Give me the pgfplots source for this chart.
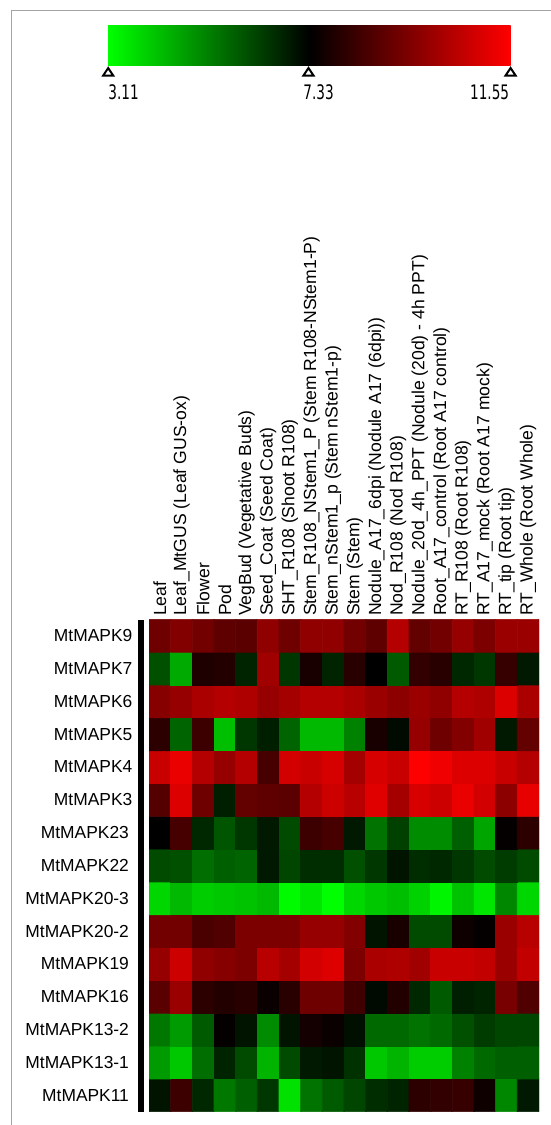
\documentclass[border=0pt]{standalone}
\usepackage{pgfplots}
\pgfplotsset{compat=1.18}
\usepackage{fontspec}
\setmainfont{Liberation Sans}
\newfontfamily\cbfont[FakeStretch=0.68]{DejaVu Sans}
\definecolor{cgreen}{RGB}{0,255,0}
\definecolor{cred}{RGB}{255,0,0}
\definecolor{framegray}{RGB}{165,165,165}
\pgfplotsset{colormap={gkr}{rgb255=(0,255,0) rgb255=(0,0,0) rgb255=(255,0,0)}}
\begin{document}
\begin{tikzpicture}
\begin{scope}[x=0.5pt,y=-0.5pt]
\path[use as bounding box] (0,0) rectangle (551,1125);
\draw[framegray, line width=0.8pt] (11.6,1125) -- (11.6,10.5) -- (551,10.5);
\shade[left color=cgreen, right color=cred, middle color=black] (108.2,25.6) rectangle (510.6,65.4);
\foreach \tx in {108.2,308.5,510.6}
  \draw[black, line width=1pt, fill=white, line join=miter] (\tx-5,75.5) -- (\tx+5,75.5) -- (\tx,68) -- cycle;
\node[anchor=base west, inner sep=0pt, font=\cbfont\fontsize{10}{12}\selectfont] at (108,99) {3.11};
\node[anchor=base west, inner sep=0pt, font=\cbfont\fontsize{10}{12}\selectfont] at (303,99) {7.33};
\node[anchor=base east, inner sep=0pt, font=\cbfont\fontsize{10}{12}\selectfont] at (509.5,99) {11.55};
\fill[black] (138,620) rectangle (144.3,1111.7);
\end{scope}
\begin{axis}[
  at={(74.5pt,-309.65pt)}, anchor=north west,
  x=10.8333pt, y=16.4133pt,
  xmin=-0.5, xmax=17.5, ymin=-0.5, ymax=14.5,
  axis line style={draw=none},
  major tick length=0pt,
  tick style={draw=none},
  xtick={0,...,17}, ytick={0,...,14},
  xticklabel pos=upper,
  xticklabels={Leaf, Leaf\_MtGUS (Leaf GUS-ox), Flower, Pod, VegBud (Vegetative Buds), Seed\_Coat (Seed Coat), SHT\_R108 (Shoot R108), Stem\_R108\_NStem1\_P (Stem R108-NStem1-P), Stem\_nStem1\_p (Stem nStem1-p), Stem (Stem), Nodule\_A17\_6dpi (Nodule A17 (6dpi)), Nod\_R108 (Nod R108), Nodule\_20d\_4h\_PPT (Nodule (20d) - 4h PPT), Root\_A17\_control (Root A17 control), RT\_R108 (Root R108), RT\_A17\_mock (Root A17 mock), RT\_tip (Root tip), RT\_Whole (Root Whole)},
  yticklabels={MtMAPK11\hspace*{1.7pt}, MtMAPK13-1\hspace*{1.7pt}, MtMAPK13-2\hspace*{1.7pt}, MtMAPK16\hspace*{1.7pt}, MtMAPK19\hspace*{1.7pt}, MtMAPK20-2\hspace*{1.7pt}, MtMAPK20-3\hspace*{1.7pt}, MtMAPK22\hspace*{1.7pt}, MtMAPK23\hspace*{1.7pt}, MtMAPK3, MtMAPK4, MtMAPK5, MtMAPK6, MtMAPK7, MtMAPK9},
  xticklabel style={rotate=90, anchor=west, inner xsep=1.5pt, inner ysep=0pt, font=\fontsize{8.8}{10}\selectfont},
  yticklabel style={anchor=east, inner sep=0pt, xshift=-8.15pt, font=\fontsize{8.7}{10}\selectfont},
  colormap name=gkr,
  point meta min=3.11, point meta max=11.55,
]
\addplot[matrix plot*, mesh/cols=18, point meta=explicit] coordinates {
(0,0)[7.00] (1,0)[8.32] (2,0)[6.67] (3,0)[5.34] (4,0)[5.76] (5,0)[6.42] (6,0)[3.61] (7,0)[5.43] (8,0)[5.84] (9,0)[6.17] (10,0)[6.59] (11,0)[6.75] (12,0)[8.07] (13,0)[8.16] (14,0)[8.24] (15,0)[7.58] (16,0)[5.10] (17,0)[6.92]
(0,1)[4.77] (1,1)[4.02] (2,1)[5.51] (3,1)[6.75] (4,1)[6.09] (5,1)[4.35] (6,1)[6.09] (7,1)[6.92] (8,1)[7.00] (9,1)[6.50] (10,1)[4.02] (11,1)[4.35] (12,1)[3.94] (13,1)[3.94] (14,1)[5.18] (15,1)[5.59] (16,1)[5.76] (17,1)[5.76]
(0,2)[5.34] (1,2)[4.77] (2,2)[5.84] (3,2)[7.41] (4,2)[7.00] (5,2)[5.01] (6,2)[7.00] (7,2)[7.66] (8,2)[7.50] (9,2)[7.08] (10,2)[5.59] (11,2)[5.59] (12,2)[5.43] (13,2)[5.59] (14,2)[6.01] (15,2)[6.34] (16,2)[6.17] (17,2)[6.17]
(0,3)[8.82] (1,3)[9.90] (2,3)[8.07] (3,3)[7.91] (4,3)[7.99] (5,3)[7.50] (6,3)[7.99] (7,3)[9.15] (8,3)[9.15] (9,3)[8.41] (10,3)[7.16] (11,3)[7.91] (12,3)[6.67] (13,3)[5.84] (14,3)[6.83] (15,3)[6.75] (16,3)[9.32] (17,3)[8.65]
(0,4)[9.81] (1,4)[10.72] (2,4)[9.73] (3,4)[9.56] (4,4)[9.40] (5,4)[10.39] (6,4)[10.06] (7,4)[10.81] (8,4)[10.97] (9,4)[9.40] (10,4)[10.14] (11,4)[10.23] (12,4)[9.98] (13,4)[10.64] (14,4)[10.64] (15,4)[10.56] (16,4)[9.90] (17,4)[10.56]
(0,5)[9.23] (1,5)[9.23] (2,5)[8.57] (3,5)[8.65] (4,5)[9.40] (5,5)[9.40] (6,5)[9.40] (7,5)[9.81] (8,5)[9.81] (9,5)[9.48] (10,5)[7.00] (11,5)[7.74] (12,5)[6.09] (13,5)[6.09] (14,5)[7.58] (15,5)[7.41] (16,5)[9.90] (17,5)[10.39]
(0,6)[3.77] (1,6)[4.27] (2,6)[3.94] (3,6)[4.02] (4,6)[4.10] (5,6)[4.27] (6,6)[3.19] (7,6)[3.52] (8,6)[3.11] (9,6)[3.77] (10,6)[4.02] (11,6)[4.19] (12,6)[3.85] (13,6)[3.28] (14,6)[4.10] (15,6)[3.52] (16,6)[5.10] (17,6)[3.77]
(0,7)[6.09] (1,7)[6.01] (2,7)[5.51] (3,7)[5.76] (4,7)[5.68] (5,7)[6.92] (6,7)[6.17] (7,7)[6.59] (8,7)[6.59] (9,7)[6.01] (10,7)[6.42] (11,7)[7.00] (12,7)[6.59] (13,7)[6.67] (14,7)[6.42] (15,7)[6.09] (16,7)[6.34] (17,7)[6.09]
(0,8)[7.33] (1,8)[8.49] (2,8)[6.67] (3,8)[5.92] (4,8)[6.42] (5,8)[6.92] (6,8)[6.09] (7,8)[8.32] (8,8)[8.49] (9,8)[6.92] (10,8)[5.43] (11,8)[6.25] (12,8)[5.01] (13,8)[5.01] (14,8)[5.76] (15,8)[4.60] (16,8)[7.41] (17,8)[8.07]
(0,9)[8.74] (1,9)[10.97] (2,9)[9.15] (3,9)[6.83] (4,9)[8.98] (5,9)[8.90] (6,9)[8.82] (7,9)[10.31] (8,9)[10.72] (9,9)[10.39] (10,9)[11.05] (11,9)[10.06] (12,9)[10.89] (13,9)[10.72] (14,9)[11.22] (15,9)[10.81] (16,9)[9.65] (17,9)[11.14]
(0,10)[10.64] (1,10)[11.22] (2,10)[10.31] (3,10)[9.81] (4,10)[10.31] (5,10)[8.49] (6,10)[10.81] (7,10)[10.64] (8,10)[10.89] (9,10)[10.06] (10,10)[10.89] (11,10)[10.64] (12,10)[11.55] (13,10)[11.30] (14,10)[10.97] (15,10)[10.97] (16,10)[10.64] (17,10)[10.31]
(0,11)[8.07] (1,11)[5.68] (2,11)[8.32] (3,11)[4.19] (4,11)[6.42] (5,11)[6.83] (6,11)[5.68] (7,11)[4.27] (8,11)[4.27] (9,11)[5.18] (10,11)[7.74] (11,11)[7.16] (12,11)[9.81] (13,11)[9.15] (14,11)[9.48] (15,11)[9.98] (16,11)[6.92] (17,11)[8.98]
(0,12)[9.56] (1,12)[9.81] (2,12)[10.14] (3,12)[10.31] (4,12)[10.23] (5,12)[9.81] (6,12)[10.06] (7,12)[10.31] (8,12)[10.31] (9,12)[10.14] (10,12)[9.90] (11,12)[9.65] (12,12)[9.90] (13,12)[9.73] (14,12)[10.31] (15,12)[10.23] (16,12)[10.97] (17,12)[10.14]
(0,13)[6.01] (1,13)[4.52] (2,13)[7.83] (3,13)[7.91] (4,13)[6.75] (5,13)[9.98] (6,13)[6.42] (7,13)[7.74] (8,13)[6.75] (9,13)[7.99] (10,13)[7.33] (11,13)[5.84] (12,13)[8.16] (13,13)[7.99] (14,13)[6.67] (15,13)[6.42] (16,13)[8.24] (17,13)[6.92]
(0,14)[9.15] (1,14)[9.48] (2,14)[9.23] (3,14)[8.90] (4,14)[8.82] (5,14)[9.73] (6,14)[9.15] (7,14)[9.73] (8,14)[9.73] (9,14)[9.23] (10,14)[8.90] (11,14)[10.31] (12,14)[8.98] (13,14)[9.23] (14,14)[9.81] (15,14)[9.40] (16,14)[9.90] (17,14)[9.90]
};
\end{axis}
\end{tikzpicture}
\end{document}
